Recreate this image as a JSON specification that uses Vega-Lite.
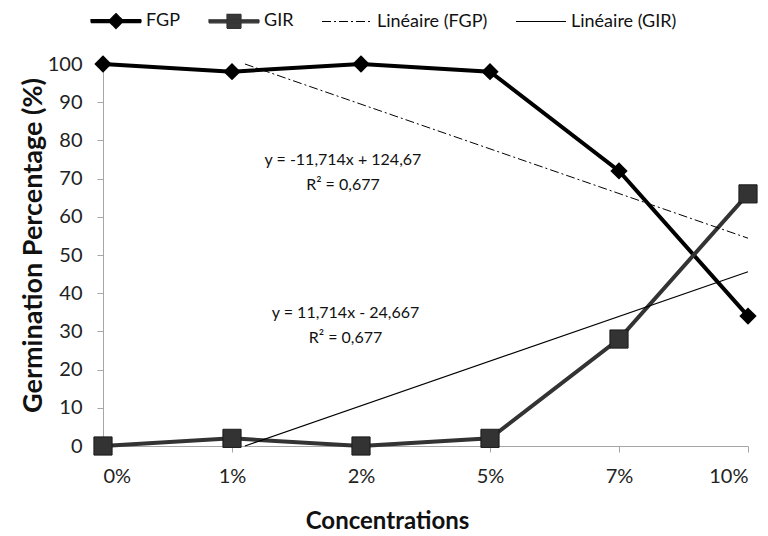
{
  "$schema": "https://vega.github.io/schema/vega-lite/v6.json",
  "autosize": "none",
  "width": 645,
  "height": 382,
  "padding": {"left": 103, "top": 64, "right": 20, "bottom": 90},
  "background": "white",
  "config": {
    "font": "Lato",
    "view": {"stroke": null},
    "axis": {"grid": false, "domainColor": "#a6a6a6", "tickColor": "#a6a6a6", "tickSize": 6, "labelColor": "#222", "labelFontSize": 20, "labelFont": "Lato", "labelOverlap": false, "titleFont": "Lato", "titleFontSize": 27, "titleFontWeight": "bold", "titleColor": "#111"},
    "legend": {"padding": 0}
  },
  "datasets": {
    "obs": [
      {"series": "FGP", "x": 1, "y": 100},
      {"series": "FGP", "x": 2, "y": 98},
      {"series": "FGP", "x": 3, "y": 100},
      {"series": "FGP", "x": 4, "y": 98},
      {"series": "FGP", "x": 5, "y": 72},
      {"series": "FGP", "x": 6, "y": 34},
      {"series": "GIR", "x": 1, "y": 0},
      {"series": "GIR", "x": 2, "y": 2},
      {"series": "GIR", "x": 3, "y": 0},
      {"series": "GIR", "x": 4, "y": 2},
      {"series": "GIR", "x": 5, "y": 28},
      {"series": "GIR", "x": 6, "y": 66}
    ],
    "trend": [
      {"series": "Linéaire (FGP)", "x": 2.1, "y": 100},
      {"series": "Linéaire (FGP)", "x": 6, "y": 54.4},
      {"series": "Linéaire (GIR)", "x": 2.1, "y": 0},
      {"series": "Linéaire (GIR)", "x": 6, "y": 45.6}
    ],
    "eq": [
      {"x": 2.86, "y": 75, "text": "y = -11,714x + 124,67\nR² = 0,677"},
      {"x": 2.88, "y": 34.7, "text": "y = 11,714x - 24,667\nR² = 0,677"}
    ]
  },
  "encoding": {
    "x": {"field": "x", "type": "quantitative", "scale": {"domain": [1, 6], "nice": false, "zero": false},
      "axis": {"values": [1, 2, 3, 4, 5, 6], "labelExpr": "['', '0%', '1%', '2%', '5%', '7%', '10%'][datum.value]", "labelPadding": 14, "title": "Concentrations", "titleX": 284, "titleY": 75, "titleBaseline": "middle", "titleFontSize": 24}},
    "y": {"field": "y", "type": "quantitative", "scale": {"domain": [0, 100], "nice": false},
      "axis": {"values": [0, 10, 20, 30, 40, 50, 60, 70, 80, 90, 100], "tickCount": 11, "labelPadding": 15, "title": "Germination Percentage (%)", "titleX": -70, "titleY": 181, "titleBaseline": "middle", "titleAlign": "center", "titleAngle": -90}}
  },
  "layer": [
    {
      "data": {"name": "obs"},
      "mark": {"type": "line", "strokeWidth": 4},
      "encoding": {
        "color": {"field": "series", "type": "nominal",
          "scale": {"domain": ["FGP", "GIR", "Linéaire (FGP)", "Linéaire (GIR)"], "range": ["#000000", "#333333", "#000000", "#000000"]},
          "legend": {
            "orient": "none", "legendX": -13, "legendY": -69, "direction": "horizontal", "title": null,
            "labelFontSize": 18, "labelColor": "#111", "labelFont": "Lato", "symbolSize": 2500, "symbolStrokeWidth": 1.2, "labelOffset": 4, "columnPadding": 25,
            "encode": {"symbols": {"update": {
              "shape": {"signal": "datum.value === 'FGP' ? 'M-1,-0.06L1,-0.06L1,0.06L-1,0.06ZM0,-0.3L0.3,0L0,0.3L-0.3,0Z' : datum.value === 'GIR' ? 'M-1,-0.06L1,-0.06L1,0.06L-1,0.06ZM-0.28,-0.28L0.28,-0.28L0.28,0.28L-0.28,0.28Z' : 'M-1,0L1,0'"},
              "strokeDash": {"signal": "datum.value === 'Linéaire (FGP)' ? [9, 3, 2, 3] : [1, 0]"},
              "fill": {"signal": "datum.value === 'GIR' ? '#383838' : '#000000'"},
              "fillOpacity": {"value": 1},
              "stroke": {"signal": "datum.value === 'GIR' ? '#383838' : '#000000'"}
            }}}
          }}
      }
    },
    {
      "data": {"name": "obs"},
      "transform": [{"filter": "datum.series === 'FGP'"}],
      "mark": {"type": "point", "shape": "diamond", "size": 300, "filled": true, "opacity": 1, "color": "#000000"}
    },
    {
      "data": {"name": "obs"},
      "transform": [{"filter": "datum.series === 'GIR'"}],
      "mark": {"type": "point", "shape": "square", "size": 330, "filled": true, "opacity": 1, "fill": "#333333", "stroke": "#1a1a1a", "strokeWidth": 1}
    },
    {
      "data": {"name": "trend"},
      "transform": [{"filter": "datum.series === 'Linéaire (FGP)'"}],
      "mark": {"type": "line", "strokeWidth": 1, "strokeDash": [9, 3, 2, 3]},
      "encoding": {"color": {"field": "series", "type": "nominal"}}
    },
    {
      "data": {"name": "trend"},
      "transform": [{"filter": "datum.series === 'Linéaire (GIR)'"}],
      "mark": {"type": "line", "strokeWidth": 1.2},
      "encoding": {"color": {"field": "series", "type": "nominal"}}
    },
    {
      "data": {"name": "eq"},
      "mark": {"type": "text", "fontSize": 16, "font": "Lato", "color": "#111", "lineBreak": "\n", "lineHeight": 25, "align": "center", "baseline": "middle"},
      "encoding": {"text": {"field": "text"}}
    }
  ]
}
